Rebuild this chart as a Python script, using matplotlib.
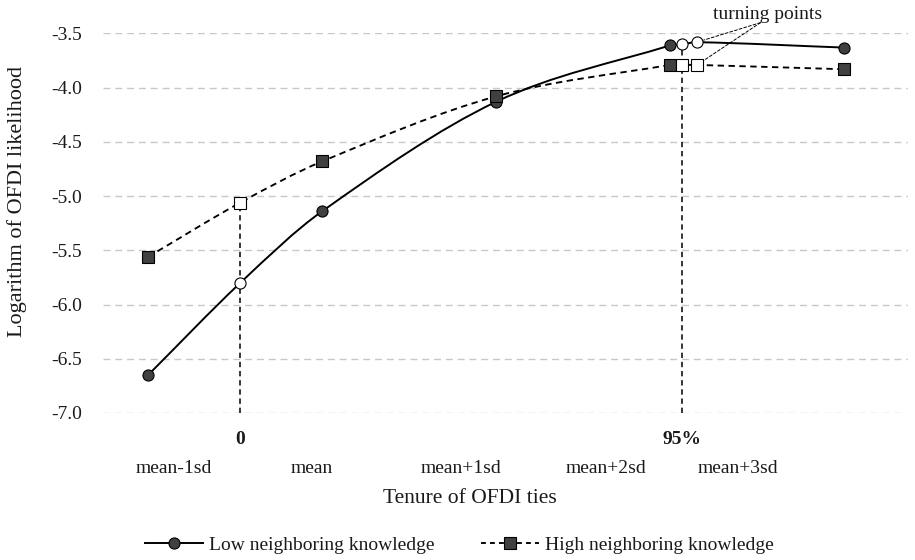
##
# OFDI likelihood vs tenure of OFDI ties
##
# ============================================
import numpy as np
import matplotlib
matplotlib.use("Agg")
import matplotlib.pyplot as plt
from matplotlib.path import Path
from matplotlib.patches import PathPatch
from matplotlib.lines import Line2D
# ============================================

plt.rcParams['font.family'] = ['Liberation Serif', 'DejaVu Serif']

# main points (mean-1sd ... mean+3sd)
x_main = [0, 1, 2, 3, 4]
low_main = [-6.65, -5.14, -4.13, -3.61, -3.63]
high_main = [-5.56, -4.68, -4.08, -3.79, -3.83]

# turning points (open markers)
x_turn = [0.53, 3.07, 3.155]
low_turn = [-5.80, -3.60, -3.58]
high_turn = [-5.06, -3.79, -3.79]

cat_labels = ["mean-1sd", "mean", "mean+1sd", "mean+2sd", "mean+3sd"]
turn_labels = ["0", "95%"]
y_ticks = [-3.5, -4.0, -4.5, -5.0, -5.5, -6.0, -6.5, -7.0]

# where the category labels sit (they are not under the points)
cat_label_x = [0.15, 0.94, 1.80, 2.63, 3.39]

TXT = "#1a1a1a"
FILL = "#404040"
DASH = (0, (3.4, 2.4))
MS = 8


def smooth_path(xs, ys):
    # cubic hermite through the points, drawn as bezier segments
    xs = np.asarray(xs, float)
    ys = np.asarray(ys, float)
    order = np.argsort(xs)
    xs, ys = xs[order], ys[order]
    m = np.empty(len(xs))
    m[0] = (ys[1] - ys[0]) / (xs[1] - xs[0])
    m[-1] = (ys[-1] - ys[-2]) / (xs[-1] - xs[-2])
    m[1:-1] = (ys[2:] - ys[:-2]) / (xs[2:] - xs[:-2])
    verts = [(xs[0], ys[0])]
    codes = [Path.MOVETO]
    for i in range(len(xs) - 1):
        h = xs[i + 1] - xs[i]
        verts += [(xs[i] + h / 3, ys[i] + m[i] * h / 3),
                  (xs[i + 1] - h / 3, ys[i + 1] - m[i + 1] * h / 3),
                  (xs[i + 1], ys[i + 1])]
        codes += [Path.CURVE4] * 3
    return Path(verts, codes)


def main():
    fig = plt.figure(figsize=(9.15, 5.6), dpi=100)
    ax = fig.add_axes([0.1126, 0.2625, 0.8798, 0.6777])

    ax.set_xlim(-0.259, 4.368)
    ax.set_ylim(-7.0, -3.5)
    for s in ax.spines.values():
        s.set_visible(False)

    # grid
    ax.set_yticks(y_ticks)
    ax.set_yticklabels([f"{v:.1f}" for v in y_ticks])
    ax.yaxis.grid(True, color="#c8c8c8", linestyle=(0, (5, 3.5)), lw=1.0)
    ax.set_axisbelow(True)
    ax.tick_params(axis="y", length=0, pad=15, labelsize=14, labelcolor=TXT)

    ax.set_xticks(cat_label_x)
    ax.set_xticklabels(cat_labels)
    ax.tick_params(axis="x", length=0, pad=34, labelsize=14, labelcolor=TXT)

    # lines
    ax.add_patch(PathPatch(smooth_path(x_main + x_turn, low_main + low_turn),
                           fill=False, edgecolor="black", lw=1.4, zorder=3))
    ax.add_patch(PathPatch(smooth_path(x_main + x_turn, high_main + high_turn),
                           fill=False, edgecolor="black", lw=1.35,
                           linestyle=DASH, zorder=3))

    # vertical lines at the turning points
    tops = [max(low_turn[i], high_turn[i]) for i in range(2)]
    ax.vlines(x_turn[:2], -7.0, tops, colors="black", lw=1.1,
              linestyles=(0, (3.5, 2.5)), zorder=2)

    # markers
    ax.plot(x_main, low_main, ls="none", marker="o", ms=MS, mfc=FILL,
            mec="black", mew=0.8, zorder=4)
    ax.plot(x_main, high_main, ls="none", marker="s", ms=MS, mfc=FILL,
            mec="black", mew=0.8, zorder=4)
    ax.plot(x_turn, low_turn, ls="none", marker="o", ms=MS, mfc="white",
            mec="black", mew=0.8, zorder=4)
    ax.plot(x_turn, high_turn, ls="none", marker="s", ms=MS, mfc="white",
            mec="black", mew=0.8, zorder=4)

    # turning point labels under the axis
    for xv, lab in zip(x_turn[:2], turn_labels):
        ax.text(xv, -0.071, lab, transform=ax.get_xaxis_transform(),
                ha="center", va="center", fontsize=14, fontweight="bold",
                color=TXT)

    # "turning points" note
    ax.text(3.563, -3.324, "turning points", ha="center", va="center",
            fontsize=14, color=TXT, clip_on=False)
    for yv in [low_turn[2], high_turn[2]]:
        ax.annotate("", xy=(x_turn[2], yv), xytext=(3.52, -3.40),
                    arrowprops=dict(arrowstyle="-", color="black", lw=0.7,
                                    linestyle=(0, (3, 2)), shrinkA=0,
                                    shrinkB=5))

    # axis labels
    ax.set_xlabel("Tenure of OFDI ties", fontsize=15.5, color=TXT)
    ax.xaxis.set_label_coords(0.456, -0.2266)
    ax.xaxis.label.set_va("center")
    ax.set_ylabel("Logarithm of OFDI likelihood", fontsize=16, color=TXT)
    ax.yaxis.set_label_coords(-0.1068, 0.5586)
    ax.yaxis.label.set_va("center")

    # legend
    handles = [
        Line2D([], [], color="black", lw=1.4, marker="o", ms=MS, mfc=FILL,
               mec="black", mew=0.8),
        Line2D([], [], color="black", lw=1.35, linestyle=(0, (2.6, 2.2)),
               marker="s", ms=MS, mfc=FILL, mec="black", mew=0.8),
    ]
    fig.legend(handles, ["Low neighboring knowledge", "High neighboring knowledge"],
               loc="center left", bbox_to_anchor=(0.158, 0.027), ncol=2,
               frameon=False, fontsize=14, handlelength=3.0,
               handletextpad=0.3, columnspacing=2.4, borderpad=0,
               borderaxespad=0, labelcolor=TXT)

    fig.savefig("out.png", dpi=100)


if __name__ == "__main__":
    main()
